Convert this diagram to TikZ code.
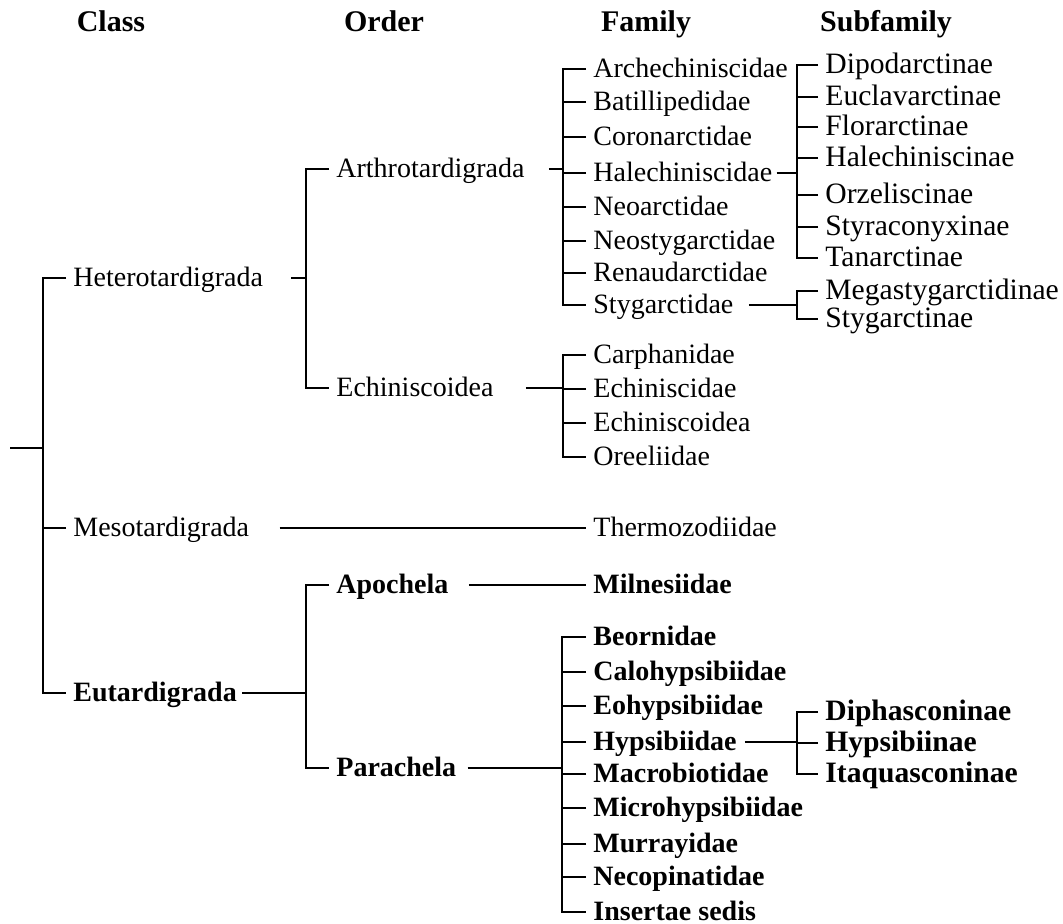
\documentclass[tikz,border=0pt]{standalone}
\usepackage{fontspec}
\setmainfont{Liberation Serif}
\usetikzlibrary{calc}

\begin{document}
\begin{tikzpicture}[x=0.5pt,y=-0.5pt,
        every node/.append style={anchor=west,inner xsep=3.5pt,inner ysep=0pt,text height=1.1em,text depth=.22em,font=\fontsize{14}{17}\selectfont},
        head/.style={anchor=center,font=\fontsize{15}{18}\selectfont\bfseries},
        hi/.style={font=\fontsize{14}{17}\selectfont\bfseries},
        sub/.style={font=\fontsize{14.8}{17}\selectfont},
        subhi/.style={font=\fontsize{14.8}{17}\selectfont\bfseries},
        br/.style={line width=1.3pt}
    ]
        \useasboundingbox (0,0) rectangle (1063,924);

        % headers
        \node[head] (hclass) at (111,23) {Class};
        \node[head] (horder) at (384,23) {Order};
        \node[head] (hfamily) at (646,23) {Family};
        \node[head] (hsub) at (886,23) {Subfamily};

        % class
        \coordinate (root) at (10,448);
        \coordinate (jclass) at (43,448);
        \node (hetero) at (66,278) {Heterotardigrada};
        \node (meso) at (66,528) {Mesotardigrada};
        \node[hi] (eu) at (66,693) {Eutardigrada};

        % order
        \coordinate (jhetero) at (306,278);
        \coordinate (jeu) at (306,693);
        \node (arthro) at (329,169) {Arthrotardigrada};
        \node (echin) at (329,388) {Echiniscoidea};
        \node[hi] (apo) at (329,585) {Apochela};
        \node[hi] (para) at (329,768) {Parachela};

        % family
        \coordinate (jarthro) at (563,169);
        \node (f1) at (586,69) {Archechiniscidae};
        \node (f2) at (586,102) {Batillipedidae};
        \node (f3) at (586,137) {Coronarctidae};
        \node (f4) at (586,173) {Halechiniscidae};
        \node (f5) at (586,207) {Neoarctidae};
        \node (f6) at (586,241) {Neostygarctidae};
        \node (f7) at (586,273) {Renaudarctidae};
        \node (f8) at (586,305) {Stygarctidae};

        \coordinate (jechin) at (563,388);
        \node (e1) at (586,355) {Carphanidae};
        \node (e2) at (586,389) {Echiniscidae};
        \node (e3) at (586,423) {Echiniscoidea};
        \node (e4) at (586,457) {Oreeliidae};

        \node (thermo) at (586,528) {Thermozodiidae};
        \node[hi] (miln) at (586,585) {Milnesiidae};

        \coordinate (jpara) at (562,768);
        \node[hi] (p1) at (586,637) {Beornidae};
        \node[hi] (p2) at (586,672) {Calohypsibiidae};
        \node[hi] (p3) at (586,706) {Eohypsibiidae};
        \node[hi] (p4) at (586,742) {Hypsibiidae};
        \node[hi] (p5) at (586,774) {Macrobiotidae};
        \node[hi] (p6) at (586,808) {Microhypsibiidae};
        \node[hi] (p7) at (586,844) {Murrayidae};
        \node[hi] (p8) at (586,877) {Necopinatidae};
        \node[hi] (p9) at (586,912) {Insertae sedis};

        % subfamily
        \coordinate (jhal) at (797,173);
        \node[sub] (s1) at (818,65) {Dipodarctinae};
        \node[sub] (s2) at (818,97) {Euclavarctinae};
        \node[sub] (s3) at (818,127) {Florarctinae};
        \node[sub] (s4) at (818,158) {Halechiniscinae};
        \node[sub] (s5) at (818,195) {Orzeliscinae};
        \node[sub] (s6) at (818,227) {Styraconyxinae};
        \node[sub] (s7) at (818,258) {Tanarctinae};

        \coordinate (jsty) at (797,305);
        \node[sub] (t1) at (818,291) {Megastygarctidinae};
        \node[sub] (t2) at (818,319) {Stygarctinae};

        \coordinate (jhyp) at (797,742);
        \node[subhi] (h1) at (818,712) {Diphasconinae};
        \node[subhi] (h2) at (818,743) {Hypsibiinae};
        \node[subhi] (h3) at (818,774) {Itaquasconinae};

        % class bracket
        \draw[br] (root) -- (jclass);
        \draw[br] (hetero.west) -| (jclass) |- (eu.west);
        \draw[br] (meso.west) -- (meso.west -| jclass);

        % order brackets
        \draw[br] ([shift={(21,0)}]hetero.east) -- (jhetero);
        \draw[br] (arthro.west) -| (jhetero) |- (echin.west);
        \draw[br] ([shift={(-2,0)}]eu.east) -- (jeu);
        \draw[br] (apo.west) -| (jeu) |- (para.west);

        % family brackets
        \draw[br] ([shift={(17,0)}]arthro.east) -- (jarthro);
        \draw[br] (f1.west) -| (jarthro) |- (f8.west);
        \foreach \i in {2,...,7}
            \draw[br] (f\i.west) -- (f\i.west -| jarthro);

        \draw[br] ([shift={(25,0)}]echin.east) -- (jechin);
        \draw[br] (e1.west) -| (jechin) |- (e4.west);
        \foreach \i in {2,3}
            \draw[br] (e\i.west) -- (e\i.west -| jechin);

        \draw[br] ([shift={(23,0)}]meso.east) -- (thermo.west);
        \draw[br] ([shift={(13,0)}]apo.east) -- (miln.west);

        \draw[br] ([shift={(4,0)}]para.east) -- (jpara);
        \draw[br] (p1.west) -| (jpara) |- (p9.west);
        \foreach \i in {2,...,8}
            \draw[br] (p\i.west) -- (p\i.west -| jpara);

        % subfamily brackets
        \draw[br] ([shift={(-3,0)}]f4.east) -- (jhal);
        \draw[br] (s1.west) -| (jhal) |- (s7.west);
        \foreach \i in {2,...,6}
            \draw[br] (s\i.west) -- (s\i.west -| jhal);

        \draw[br] ([shift={(8,0)}]f8.east) -- (jsty);
        \draw[br] (t1.west) -| (jsty) |- (t2.west);

        \draw[br] ([shift={(1,0)}]p4.east) -- (jhyp);
        \draw[br] (h1.west) -| (jhyp) |- (h3.west);
        \draw[br] (h2.west) -- (h2.west -| jhyp);
    \end{tikzpicture}
\end{document}
